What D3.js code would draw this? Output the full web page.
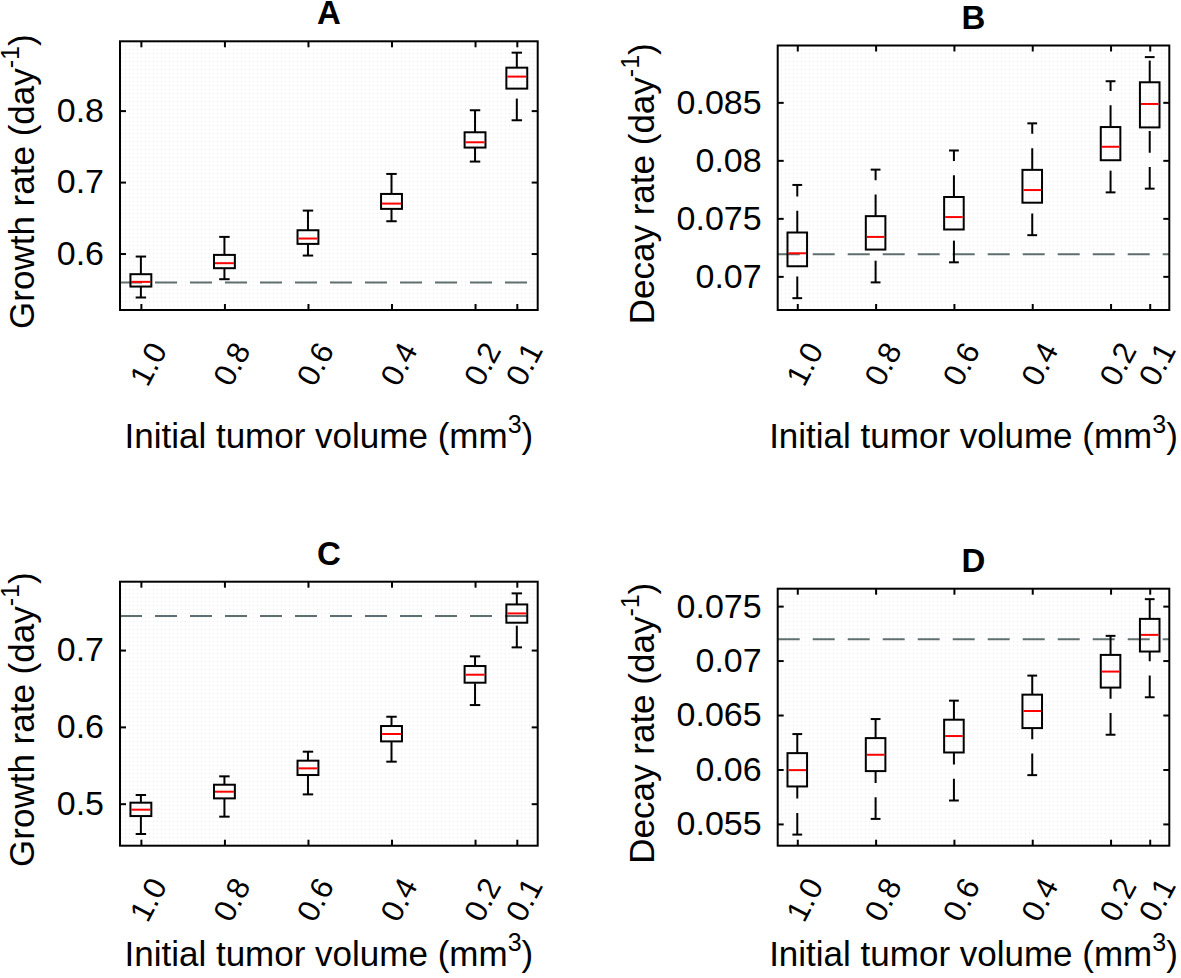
<!DOCTYPE html>
<html>
<head>
<meta charset="utf-8">
<script src="https://cdn.jsdelivr.net/npm/d3@7"></script>
<style>
  html, body { margin: 0; padding: 0; background: #ffffff; }
  svg { display: block; }
  text { font-family: "Liberation Sans", Arial, Helvetica, sans-serif; fill: #000; }
</style>
</head>
<body>
<svg id="chart" width="1181" height="978"></svg>
<script>
// ---------------- data ----------------
const volumes = [1.0, 0.8, 0.6, 0.4, 0.2, 0.1];
const volumeLabels = ["1.0", "0.8", "0.6", "0.4", "0.2", "0.1"];

// Panel A: growth rate
const aLow  = [0.5385, 0.5641, 0.5972, 0.6452, 0.7287, 0.7865];
const aQ1   = [0.5538, 0.5795, 0.6135, 0.6625, 0.7483, 0.8308];
const aMed  = [0.5604, 0.5865, 0.6210, 0.6699, 0.7557, 0.8476];
const aQ3   = [0.5711, 0.5981, 0.6326, 0.6834, 0.7697, 0.8601];
const aHigh = [0.5958, 0.6233, 0.6601, 0.7114, 0.8005, 0.8811];
const aRef  = 0.5594;
const aTicks = [0.6, 0.7, 0.8];
const aTickLabels = ["0.6", "0.7", "0.8"];

// Panel B: decay rate
const bLow  = [0.06812, 0.06948, 0.07121, 0.07355, 0.07724, 0.07756];
const bQ1   = [0.07087, 0.07231, 0.07404, 0.07635, 0.08001, 0.08284];
const bMed  = [0.07199, 0.07340, 0.07511, 0.07744, 0.08117, 0.08486];
const bQ3   = [0.07378, 0.07519, 0.07684, 0.07918, 0.08287, 0.08673];
const bHigh = [0.07788, 0.07920, 0.08085, 0.08319, 0.08682, 0.08890];
const bRef  = 0.0719;
const bTicks = [0.07, 0.075, 0.08, 0.085];
const bTickLabels = ["0.07", "0.075", "0.08", "0.085"];

// Panel C: growth rate
const cLow  = [0.4605, 0.4831, 0.5121, 0.5547, 0.6284, 0.7035];
const cQ1   = [0.4839, 0.5069, 0.5373, 0.5811, 0.6575, 0.7356];
const cMed  = [0.4922, 0.5156, 0.5460, 0.5907, 0.6679, 0.7477];
const cQ3   = [0.5013, 0.5247, 0.5560, 0.6011, 0.6792, 0.7594];
const cHigh = [0.5113, 0.5356, 0.5677, 0.6132, 0.6918, 0.7738];
const cRef  = 0.7443;
const cTicks = [0.5, 0.6, 0.7];
const cTickLabels = ["0.5", "0.6", "0.7"];

// Panel D: decay rate
const dLow  = [0.05402, 0.05546, 0.05715, 0.05948, 0.06319, 0.06663];
const dQ1   = [0.05844, 0.05985, 0.06156, 0.06380, 0.06752, 0.07083];
const dMed  = [0.05994, 0.06135, 0.06307, 0.06537, 0.06899, 0.07236];
const dQ3   = [0.06150, 0.06288, 0.06457, 0.06687, 0.07052, 0.07383];
const dHigh = [0.06325, 0.06463, 0.06632, 0.06862, 0.07227, 0.07564];
const dRef  = 0.07196;
const dTicks = [0.055, 0.06, 0.065, 0.07, 0.075];
const dTickLabels = ["0.055", "0.06", "0.065", "0.07", "0.075"];

const titles = ["A", "B", "C", "D"];
const yLabels = ["Growth rate (day", "Decay rate (day", "Growth rate (day", "Decay rate (day"];
const xLabel = "Initial tumor volume (mm";

// ---------------- drawing ----------------
const svg = d3.select("#chart");
svg.append("rect").attr("width", 1181).attr("height", 978).attr("fill", "#fff");

const defs = svg.append("defs");
const pat = defs.append("pattern").attr("id", "dots")
  .attr("width", 4).attr("height", 4).attr("patternUnits", "userSpaceOnUse");
pat.append("rect").attr("width", 4).attr("height", 4).attr("fill", "#ffffff");
pat.append("rect").attr("x", 1).attr("y", 1).attr("width", 1).attr("height", 1).attr("fill", "#ececec");

const panels = [
  { left: 120, right: 537.7, top: 41.3, bottom: 310, yDomain: [0.521, 0.897],
    low: aLow, q1: aQ1, med: aMed, q3: aQ3, high: aHigh, ref: aRef,
    ticks: aTicks, tickLabels: aTickLabels, title: titles[0], yLabel: yLabels[0],
    yLabelX: 34, xLabelY: 448 },
  { left: 777.7, right: 1169.3, top: 45.5, bottom: 310, yDomain: [0.0671, 0.0899],
    low: bLow, q1: bQ1, med: bMed, q3: bQ3, high: bHigh, ref: bRef,
    ticks: bTicks, tickLabels: bTickLabels, title: titles[1], yLabel: yLabels[1],
    yLabelX: 654, xLabelY: 448 },
  { left: 120, right: 537.7, top: 581.7, bottom: 845.7, yDomain: [0.4453, 0.789],
    low: cLow, q1: cQ1, med: cMed, q3: cQ3, high: cHigh, ref: cRef,
    ticks: cTicks, tickLabels: cTickLabels, title: titles[2], yLabel: yLabels[2],
    yLabelX: 34, xLabelY: 966 },
  { left: 777.7, right: 1169.3, top: 588.7, bottom: 845.7, yDomain: [0.0530, 0.0766],
    low: dLow, q1: dQ1, med: dMed, q3: dQ3, high: dHigh, ref: dRef,
    ticks: dTicks, tickLabels: dTickLabels, title: titles[3], yLabel: yLabels[3],
    yLabelX: 654, xLabelY: 966 }
];

const BOX_W = 0.05;   // box width in volume units
const CAP_W = 0.025;  // whisker cap width in volume units

panels.forEach(p => {
  const x = d3.scaleLinear().domain([1.05, 0.05]).range([p.left, p.right]);
  const y = d3.scaleLinear().domain(p.yDomain).range([p.bottom, p.top]);
  const g = svg.append("g");

  g.append("rect").attr("x", p.left).attr("y", p.top)
    .attr("width", p.right - p.left).attr("height", p.bottom - p.top)
    .attr("fill", "url(#dots)");

  g.append("line")
    .attr("x1", p.left).attr("x2", p.right)
    .attr("y1", y(p.ref)).attr("y2", y(p.ref))
    .attr("stroke", "#5f6f6f").attr("stroke-width", 2)
    .attr("stroke-dasharray", "22,13");

  const bw = Math.abs(x(0) - x(BOX_W));
  const cw = Math.abs(x(0) - x(CAP_W));

  volumes.forEach((v, i) => {
    const cx = x(v);
    const bx = g.append("g");
    bx.append("line").attr("x1", cx).attr("x2", cx)
      .attr("y1", y(p.low[i])).attr("y2", y(p.q1[i]))
      .attr("stroke", "#000").attr("stroke-width", 2).attr("stroke-dasharray", "21.7,14.3");
    bx.append("line").attr("x1", cx).attr("x2", cx)
      .attr("y1", y(p.q3[i])).attr("y2", y(p.high[i]))
      .attr("stroke", "#000").attr("stroke-width", 2).attr("stroke-dasharray", "21.7,14.3");
    [p.low[i], p.high[i]].forEach(val => {
      bx.append("line").attr("x1", cx - cw / 2).attr("x2", cx + cw / 2)
        .attr("y1", y(val)).attr("y2", y(val))
        .attr("stroke", "#000").attr("stroke-width", 2);
    });
    bx.append("rect").attr("x", cx - bw / 2).attr("y", y(p.q3[i]))
      .attr("width", bw).attr("height", y(p.q1[i]) - y(p.q3[i]))
      .attr("fill", "none").attr("stroke", "#000").attr("stroke-width", 2);
    bx.append("line").attr("x1", cx - bw / 2 + 1).attr("x2", cx + bw / 2 - 1)
      .attr("y1", y(p.med[i])).attr("y2", y(p.med[i]))
      .attr("stroke", "#ff0000").attr("stroke-width", 2);
  });

  const axL = g.append("g").attr("transform", `translate(${p.left},0)`)
    .call(d3.axisLeft(y).tickValues(p.ticks).tickFormat((d, i) => p.tickLabels[i])
      .tickSizeInner(-6).tickSizeOuter(0).tickPadding(16));
  axL.selectAll("text").attr("font-size", 34).attr("font-family", "Liberation Sans, Arial, sans-serif");
  const axR = g.append("g").attr("transform", `translate(${p.right},0)`)
    .call(d3.axisRight(y).tickValues(p.ticks).tickFormat("").tickSizeInner(-6).tickSizeOuter(0));
  const axT = g.append("g").attr("transform", `translate(0,${p.top})`)
    .call(d3.axisTop(x).tickValues(volumes).tickFormat("").tickSizeInner(-6).tickSizeOuter(0));
  const axB = g.append("g").attr("transform", `translate(0,${p.bottom})`)
    .call(d3.axisBottom(x).tickValues(volumes).tickFormat((d, i) => volumeLabels[i])
      .tickSizeInner(-6).tickSizeOuter(0));
  axB.selectAll("text")
    .attr("font-size", 31).attr("font-family", "Liberation Sans, Arial, sans-serif")
    .attr("x", 7).attr("y", 54).attr("dy", null)
    .attr("text-anchor", "middle").attr("dominant-baseline", "central")
    .attr("transform", "rotate(-62,7,54)");
  [axL, axR, axT, axB].forEach(a => {
    a.select(".domain").remove();
    a.selectAll(".tick line").attr("stroke", "#000").attr("stroke-width", 2);
  });

  g.append("rect").attr("x", p.left).attr("y", p.top)
    .attr("width", p.right - p.left).attr("height", p.bottom - p.top)
    .attr("fill", "none").attr("stroke", "#000").attr("stroke-width", 2);

  g.append("text").attr("x", (p.left + p.right) / 2).attr("y", p.top - 17)
    .attr("text-anchor", "middle").attr("font-size", 33).attr("font-weight", "bold")
    .text(p.title);

  const yl = g.append("text")
    .attr("transform", `translate(${p.yLabelX},${(p.top + p.bottom) / 2 + 6}) rotate(-90)`)
    .attr("text-anchor", "middle").attr("font-size", 35);
  yl.append("tspan").text(p.yLabel);
  yl.append("tspan").attr("font-size", 25).attr("dy", -15).text("-1");
  yl.append("tspan").attr("dy", 15).text(")");

  const xl = g.append("text")
    .attr("x", (p.left + p.right) / 2).attr("y", p.xLabelY)
    .attr("text-anchor", "middle").attr("font-size", 35);
  xl.append("tspan").text(xLabel);
  xl.append("tspan").attr("font-size", 25).attr("dy", -15).text("3");
  xl.append("tspan").attr("dy", 15).text(")");
});
</script>
</body>
</html>
